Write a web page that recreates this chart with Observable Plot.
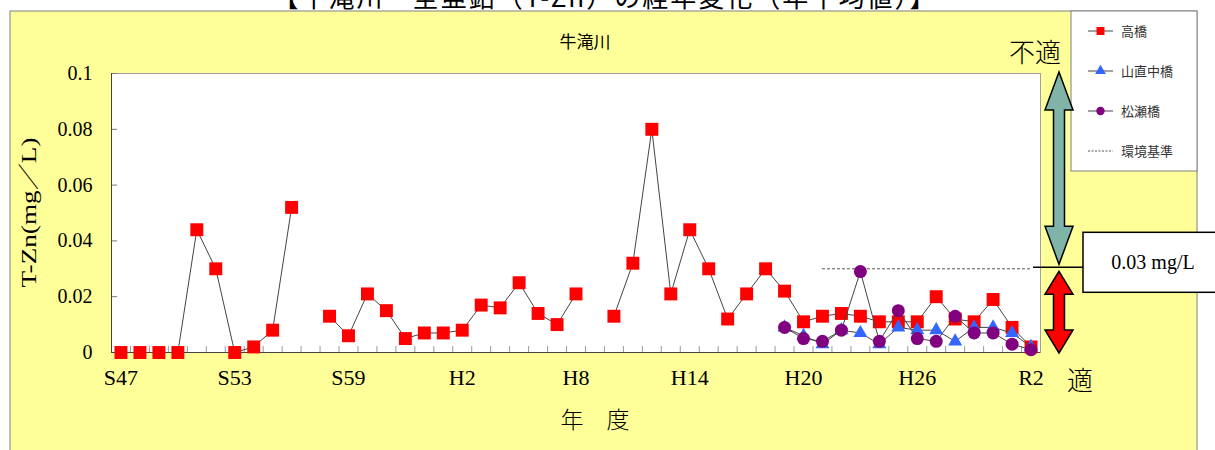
<!DOCTYPE html>
<html><head><meta charset="utf-8">
<script src="https://cdn.jsdelivr.net/npm/d3@7"></script>
<script src="https://cdn.jsdelivr.net/npm/@observablehq/plot@0.6"></script>
<style>
body{margin:0;background:#fff;}
#chart{position:relative;width:1215px;height:450px;overflow:hidden;}
</style>
</head><body><div id="chart"></div>
<script>
// ---- data ----
const years = [1972,1973,1974,1975,1976,1977,1978,1979,1980,1981,1982,1983,1984,1985,1986,1987,1988,1989,1990,1991,1992,1993,1994,1995,1996,1997,1998,1999,2000,2001,2002,2003,2004,2005,2006,2007,2008,2009,2010,2011,2012,2013,2014,2015,2016,2017,2018,2019,2020];
const takahashi = [0,0,0,0,0.044,0.030,0,0.002,0.008,0.052,null,0.013,0.006,0.021,0.015,0.005,0.007,0.007,0.008,0.017,0.016,0.025,0.014,0.010,0.021,null,0.013,0.032,0.080,0.021,0.044,0.030,0.012,0.021,0.030,0.022,0.011,0.013,0.014,0.013,0.011,0.011,0.011,0.020,0.012,0.011,0.019,0.009,0.002];
const subYears = [2007,2008,2009,2010,2011,2012,2013,2014,2015,2016,2017,2018,2019,2020];
const yamanaonaka = [0.009,0.006,0.003,0.008,0.007,0.003,0.009,0.008,0.008,0.004,0.009,0.009,0.007,0.002];
const matsuse = [0.009,0.005,0.004,0.008,0.029,0.004,0.015,0.005,0.004,0.013,0.007,0.007,0.003,0.001];
const envStandard = 0.03;
const envFrom = 2009, envTo = 2020;
const xTickYears = [1972,1978,1984,1990,1996,2002,2008,2014,2020];
const xTickLabels = ["S47","S53","S59","H2","H8","H14","H20","H26","R2"];
const yTicks = [0,0.02,0.04,0.06,0.08,0.1];
const seriesNames = ["高橋","山直中橋","松瀬橋","環境基準"];
const seriesColors = ["#ff0000","#3366ff","#800080"];
const titleText = "【牛滝川　全亜鉛（T-Zn）の経年変化（年平均値）】";
const panelTitle = "牛滝川";
const xTitle = "年　度";
const yTitle = "T-Zn(mg／L)";

// ---- tables ----
const taka = years.map((y,i)=>({year:y, v: takahashi[i] == null ? NaN : takahashi[i]}));
const yam = subYears.map((y,i)=>({year:y, v: yamanaonaka[i]}));
const mat = subYears.map((y,i)=>({year:y, v: matsuse[i]}));
const bounds = years.map(y=>y-0.5).concat([years[years.length-1]+0.5]);

const serif = "'Liberation Serif','DejaVu Serif',serif";
const cjk = "'Noto Sans CJK JP','Noto Sans',sans-serif";

const plot = Plot.plot({
  width:1215, height:450,
  marginLeft:111, marginRight:175, marginTop:73, marginBottom:98,
  style:{fontFamily:serif, background:"white", color:"#000"},
  x:{domain:[bounds[0], bounds[bounds.length-1]]},
  y:{domain:[0,0.1]},
  marks:[
    Plot.frame({fill:"white", stroke:"#a0a0a0"}),
    Plot.axisX({ticks:bounds, tickSize:-6, tickFormat:()=>"", stroke:"#999", label:null}),
    Plot.axisX({ticks:xTickYears, tickSize:0, tickPadding:17, tickFormat:d=>xTickLabels[xTickYears.indexOf(d)], fontSize:22, fill:"#000", label:null}),
    Plot.axisY({ticks:yTicks, tickSize:-6, tickPadding:25, tickFormat:d=>String(d), fontSize:20, fill:"#000", stroke:"#777", label:null}),
    Plot.ruleY([0], {stroke:"#444"}),
    Plot.ruleX([bounds[0]], {stroke:"#444"}),
    Plot.ruleY([envStandard], {x1:envFrom, x2:envTo, stroke:"#555", strokeDasharray:"3,2"}),
    Plot.line(taka, {x:"year", y:"v", stroke:"#444", strokeWidth:1}),
    Plot.dot(taka, {x:"year", y:"v", symbol:"square", r:7.3, fill:seriesColors[0], stroke:"none"}),
    Plot.line(yam, {x:"year", y:"v", stroke:"#444", strokeWidth:1}),
    Plot.dot(yam, {x:"year", y:"v", symbol:"triangle", r:5.2, fill:seriesColors[1], stroke:"none"}),
    Plot.line(mat, {x:"year", y:"v", stroke:"#444", strokeWidth:1}),
    Plot.dot(mat, {x:"year", y:"v", symbol:"circle", r:6.5, fill:seriesColors[2], stroke:"none"})
  ]
});
document.getElementById("chart").appendChild(plot);

const svg = d3.select(plot);
const X = v => plot.scale("x").apply(v);
const Y = v => plot.scale("y").apply(v);
const right = X(bounds[bounds.length-1]);

// yellow panel behind everything
svg.insert("rect", ":first-child").attr("x",10).attr("y",11).attr("width",1187).attr("height",460)
  .attr("fill","#ffff99").attr("stroke","#808080");
svg.insert("text", ":first-child").attr("x",604).attr("y",7).attr("text-anchor","middle")
  .attr("font-family",cjk).attr("font-size",26).attr("textLength",663).attr("lengthAdjust","spacing").text(titleText);

// titles
svg.append("text").attr("x",585).attr("y",48).attr("text-anchor","middle").attr("font-family",cjk)
  .attr("font-size",17).text(panelTitle);
svg.append("text").attr("x",595).attr("y",428).attr("text-anchor","middle").attr("font-family",cjk)
  .attr("font-size",23).attr("font-weight",300).text(xTitle);
svg.append("text").attr("transform",`translate(36,${(Y(0)+Y(0.1))/2}) rotate(-90)`).attr("text-anchor","middle")
  .attr("font-family",serif+","+cjk).attr("font-size",21).attr("textLength",150).attr("lengthAdjust","spacingAndGlyphs").text(yTitle);

// legend
const lg = svg.append("g");
lg.append("rect").attr("x",1071).attr("y",11).attr("width",126).attr("height",160).attr("fill","white").attr("stroke","#808080");
const syms = [d3.symbolSquare, d3.symbolTriangle, d3.symbolCircle];
const sizes = [Math.PI*4.5*4.5, Math.PI*4*4, Math.PI*4.2*4.2];
seriesNames.forEach((name,i)=>{
  const yy = 31 + i*40;
  if (i<3) {
    lg.append("line").attr("x1",1088).attr("x2",1113).attr("y1",yy).attr("y2",yy).attr("stroke","#444");
    lg.append("path").attr("d",d3.symbol(syms[i], sizes[i])()).attr("transform",`translate(1100.5,${yy})`).attr("fill",seriesColors[i]);
  } else {
    lg.append("line").attr("x1",1088).attr("x2",1113).attr("y1",yy).attr("y2",yy).attr("stroke","#555").attr("stroke-dasharray","2,1.5");
  }
  lg.append("text").attr("x",1121).attr("y",yy).attr("dy","0.35em").attr("text-anchor","start").attr("font-family",cjk).attr("font-size",13).attr("fill","#333").text(name);
});

// arrows and standard box
function dbl(cx, top, bottom, hl, hw, sw){
  return `M${cx},${top}L${cx+hw},${top+hl}L${cx+sw},${top+hl}L${cx+sw},${bottom-hl}L${cx+hw},${bottom-hl}L${cx},${bottom}L${cx-hw},${bottom-hl}L${cx-sw},${bottom-hl}L${cx-sw},${top+hl}L${cx-hw},${top+hl}Z`;
}
const ys = Y(envStandard);
svg.append("path").attr("d",dbl(1059, Y(0.1)-1, ys-4, 38, 14, 5.5)).attr("fill","#80b4a8").attr("stroke","#000").attr("stroke-width",1.5);
svg.append("path").attr("d",dbl(1059, ys+3, Y(0)+1, 23, 14, 5.5)).attr("fill","#ff0000").attr("stroke","#000").attr("stroke-width",1.5);
svg.append("line").attr("x1",right-7).attr("x2",1083).attr("y1",ys-1).attr("y2",ys-1).attr("stroke","#000").attr("stroke-width",1.5);
svg.append("rect").attr("x",1083).attr("y",ys-36).attr("width",140).attr("height",60).attr("fill","white").attr("stroke","#000").attr("stroke-width",1.5);
svg.append("text").attr("x",1153).attr("y",ys-6).attr("dy","0.35em").attr("text-anchor","middle").attr("font-family",serif).attr("font-size",20).text(envStandard+" mg/L");
svg.append("text").attr("x",1035).attr("y",62).attr("text-anchor","middle").attr("font-family",cjk).attr("font-size",26).attr("font-weight",300).text("不適");
svg.append("text").attr("x",1080).attr("y",390).attr("text-anchor","middle").attr("font-family",cjk).attr("font-size",26).attr("font-weight",300).text("適");
</script>
</body></html>
